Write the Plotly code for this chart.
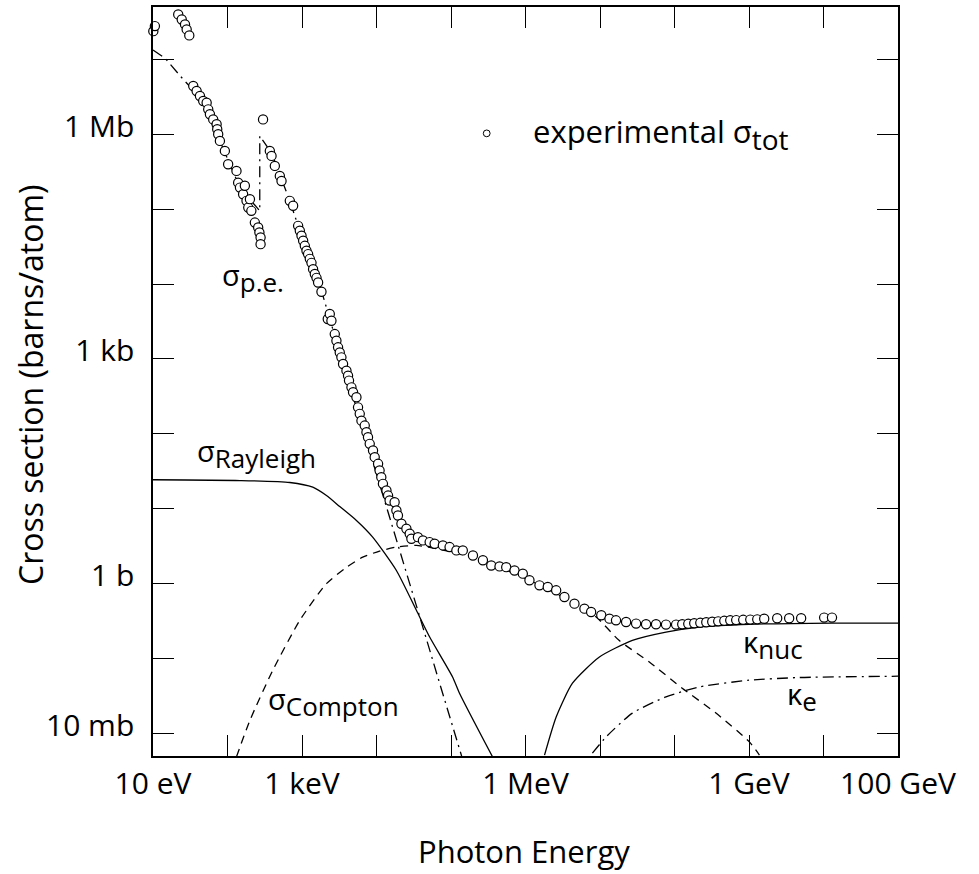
import plotly.graph_objects as go

# ---------------- data (energy in eV, cross section in barns/atom) ----------------
E_exp = [10.1, 10.6,
         21.8, 24.3, 26.9, 28.3, 30.7,
         34.7, 38.5, 42.7, 47.2, 52.5, 55.1, 58.1, 64.3, 71.4, 72.8, 75.0, 79.1, 92.2, 102,
         132, 139, 147, 162, 171, 180, 190, 200, 209, 233, 258, 268, 278, 278,
         300,
         370, 390, 432, 504, 531, 686, 760, 887, 935, 985, 1036, 1091, 1149, 1207, 1273,
         1341, 1409, 1486, 1565, 1645, 1825,
         2218, 2360, 2483, 2754, 2897, 3048, 3213, 3381, 3556, 3950, 4150, 4276, 4610,
         4845, 5380, 5650, 5957, 6281, 6950, 7328, 7690, 8110, 8980, 9460,
         1.05e4, 1.10e4, 1.16e4, 1.22e4, 1.36e4, 1.43e4, 1.50e4, 1.75e4, 1.85e4, 1.94e4,
         2.16e4, 2.52e4, 2.79e4, 2.94e4, 3.60e4, 4.20e4, 5.17e4, 6.03e4, 7.78e4, 9.57e4,
         1.18e5, 1.44e5, 1.97e5, 2.68e5, 3.47e5, 4.48e5, 5.51e5, 7.12e5, 9.20e5,
         1.13e6, 1.54e6, 1.99e6, 2.58e6, 3.33e6, 4.54e6, 6.18e6, 7.60e6,
         1.04e7, 1.34e7, 1.64e7, 2.24e7, 3.05e7, 4.15e7, 5.65e7, 7.69e7,
         1.05e8, 1.27e8, 1.53e8, 1.84e8, 2.22e8, 2.67e8, 3.21e8, 3.86e8, 4.66e8, 5.60e8,
         6.73e8, 8.36e8, 1.04e9, 1.29e9, 1.60e9, 2.39e9, 3.46e9, 5.01e9, 1.02e10, 1.30e10]
sigma_exp = [2.38e7, 2.78e7,
             3.98e7, 3.41e7, 2.93e7, 2.51e7, 2.09e7,
             4.41e6, 3.78e6, 3.24e6, 2.78e6, 2.64e6, 2.15e6, 1.85e6, 1.58e6, 1.36e6, 1.17e6, 1.0e6, 8.15e5, 5.99e5, 3.98e5,
             3.24e5, 2.26e5, 1.94e5, 1.58e5, 2.05e5, 1.29e5, 1.05e5, 1.36e5, 9.49e4, 6.62e4, 5.69e4, 4.88e4, 4.18e4, 3.41e4,
             1.58e6,
             5.99e5, 5.14e5, 3.78e5, 2.78e5, 2.38e5, 1.29e5, 1.11e5, 5.99e4, 5.14e4, 4.41e4, 3.78e4, 3.24e4, 2.78e4, 2.51e4, 2.17e4,
             1.92e4, 1.58e4, 1.36e4, 1.21e4, 1.05e4, 7.89e3,
             3.41e3, 3.98e3, 3.24e3, 2.15e3, 1.75e3, 1.43e3, 1.22e3, 1.05e3, 857, 698, 599, 514, 418,
             359, 308, 226, 185, 150, 129, 105, 90.2, 73.6, 59.9, 48.8,
             39.8, 32.4, 26.4, 21.5, 17.5, 15.0, 12.9, 12.2, 9.49, 8.14,
             6.31, 5.41, 4.64, 3.98, 4.18, 3.78, 3.59, 3.41, 3.24, 3.08,
             2.78, 2.78, 2.38, 2.05, 1.75, 1.70, 1.66, 1.50, 1.36,
             1.11, 0.949, 0.901, 0.815, 0.663, 0.541, 0.464, 0.418,
             0.378, 0.341, 0.324, 0.308, 0.293, 0.287, 0.287, 0.284,
             0.284, 0.287, 0.291, 0.296, 0.300, 0.305, 0.310, 0.314, 0.319, 0.324,
             0.326, 0.329, 0.331, 0.334, 0.340, 0.345, 0.345, 0.345, 0.352, 0.352]

E_pe = [10, 14.5, 25.2, 42.7, 79.1, 147, 271, 271, 390, 686, 1090, 1825, 3213, 5957,
        1.104e4, 2.05e4, 3.79e4, 7.03e4, 1.39e5]
sigma_pe = [1.33e7, 1.04e7, 5.46e6, 3.14e6, 8.15e5, 1.93e5, 9.5e4, 9.5e5, 5.63e5, 1.29e5,
            3.24e4, 8.15e3, 1213, 160, 21.1, 2.96, 0.366, 0.0469, 4.98e-3]

E_rayleigh = [10, 147, 686, 1396, 2130, 3213, 5380, 8890, 1.85e4, 3.43e4, 5.17e4, 1.05e5,
              1.30e5, 3.61e5]
sigma_rayleigh = [24.4, 23.8, 22.4, 19.4, 15.0, 10.7, 6.98, 4.18, 1.50, 0.441, 0.194,
                  0.0568, 0.0345, 4.88e-3]

E_compton = [132, 200, 406, 935, 2130, 3950, 6530, 1.10e4, 1.85e4, 3.43e4, 7.03e4, 1.77e5,
             4.48e5, 1.13e6, 2.86e6, 8.87e6, 1.80e7, 4.59e7, 1.27e8, 3.60e8, 1.01e9, 1.38e9]
sigma_compton = [4.88e-3, 0.0150, 0.0699, 0.324, 1.0, 1.65, 2.26, 2.72, 3.08, 3.24, 2.87,
                 2.31, 1.66, 1.11, 0.698, 0.359, 0.175, 0.0901, 0.0402, 0.0187, 7.73e-3, 5.14e-3]

E_knuc = [1.80e6, 2.58e6, 4.27e6, 9.82e6, 2.72e7, 7.69e7, 2.15e8, 1.01e9, 1.30e10, 1.0e11]
sigma_knuc = [5.14e-3, 0.0166, 0.0469, 0.105, 0.175, 0.226, 0.264, 0.287, 0.298, 0.298]

E_ke = [7.91e6, 1.21e7, 2.72e7, 7.69e7, 2.15e8, 1.01e9, 4.71e9, 1.0e11]
sigma_ke = [5.46e-3, 9.01e-3, 0.0187, 0.0308, 0.0418, 0.0514, 0.0558, 0.0581]

# labelled ticks and unlabelled (minor) decade ticks
x_tickvals = [1e1, 1e3, 1e6, 1e9, 1e11]
x_ticktext = ["10 eV", "1 keV", "1 MeV", "1 GeV", "100 GeV"]
x_minorvals = [1e2, 1e4, 1e5, 1e7, 1e8, 1e10]
y_tickvals = [1e-2, 1e0, 1e3, 1e6]
y_ticktext = ["10 mb", "1 b", "1 kb", "1 Mb"]
y_minorvals = [1e-1, 1e1, 1e2, 1e4, 1e5, 1e7]

FONT = "Open Sans"
LW = 1.3

fig = go.Figure()

def curve(x, y, dash):
    fig.add_trace(go.Scatter(x=x, y=y, mode="lines", showlegend=False, hoverinfo="skip",
                             line=dict(color="black", width=LW, dash=dash, shape="spline",
                                       smoothing=0.6)))

curve(E_rayleigh, sigma_rayleigh, "solid")
curve(E_compton, sigma_compton, "8px,6px")
curve(E_knuc, sigma_knuc, "solid")
curve(E_ke, sigma_ke, "11px,5px,2px,5px")
# photoelectric: drawn without smoothing across the K edge
fig.add_trace(go.Scatter(x=E_pe, y=sigma_pe, mode="lines", showlegend=False, hoverinfo="skip",
                         line=dict(color="black", width=LW, dash="11px,5px,2px,5px")))

fig.add_trace(go.Scatter(x=E_exp, y=sigma_exp, mode="markers", showlegend=False,
                         cliponaxis=False,
                         marker=dict(symbol="circle", size=9.2, color="white",
                                     line=dict(color="black", width=1.2))))

axis_common = dict(type="log", showgrid=False, zeroline=False, showline=True,
                   linecolor="black", linewidth=1.5, mirror="allticks",
                   ticks="inside", ticklen=21, tickwidth=1.3, tickcolor="black",
                   tickfont=dict(family=FONT, size=30, color="black"))

fig.update_xaxes(range=[1, 11], tickmode="array", tickvals=x_tickvals, ticktext=x_ticktext,
                 minor=dict(tickmode="array", tickvals=x_minorvals, ticks="inside",
                            ticklen=21, tickwidth=1.3, tickcolor="black", showgrid=False),
                 ticklabelstandoff=0, **axis_common)
fig.update_yaxes(range=[-2.301, 7.699], tickmode="array", tickvals=y_tickvals, ticktext=y_ticktext,
                 minor=dict(tickmode="array", tickvals=y_minorvals, ticks="inside",
                            ticklen=21, tickwidth=1.3, tickcolor="black", showgrid=False),
                 ticklabelstandoff=11, ticklabelshift=-8, **axis_common)

def px2paper(px, py):
    return (px - 153) / 745, (756 - py) / 751

def label(text, px, py, size=29, **kw):
    x, y = px2paper(px, py)
    fig.add_annotation(text=text, xref="paper", yref="paper", x=x, y=y,
                       xanchor=kw.pop("xanchor", "left"), yanchor="middle", showarrow=False,
                       font=dict(family=FONT, size=size, color="black"), **kw)

def sub(t, size=26):
    return "<sub><span style='font-size:%dpx'>%s</span></sub>" % (size, t)

# axis titles
label("Photon Energy", 524, 851, 31, xanchor="center")
label("Cross section (barns/atom)", 31, 384, 32, xanchor="center", textangle=-90)

# curve labels
label("experimental σ" + sub("tot", 28), 531, 132, 31)
label("σ" + sub("p.e."), 220, 276)
label("σ" + sub("Rayleigh"), 195, 453)
label("σ" + sub("Compton"), 266, 701)
label("κ" + sub("nuc"), 741, 644)
label("κ" + sub("e"), 785, 696)

# legend key for the experimental points
cx, cy = px2paper(486.7, 131.7)
r = 3.4
fig.add_shape(type="circle", xref="paper", yref="paper",
              x0=cx - r / 745, x1=cx + r / 745, y0=cy - r / 751, y1=cy + r / 751,
              line=dict(color="black", width=1), fillcolor="white")

fig.update_layout(width=979, height=874, margin=dict(l=153, r=81, t=5, b=118),
                  plot_bgcolor="white", paper_bgcolor="white", showlegend=False)

fig.write_html("out.html")
